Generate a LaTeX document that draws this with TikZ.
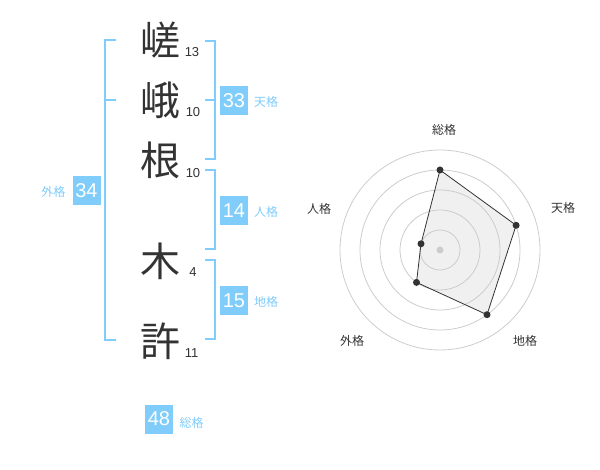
\documentclass[tikz,border=0pt]{standalone}
\usepackage{fontspec}
\setmainfont{Liberation Sans}
\newfontfamily\jp{Noto Sans CJK JP}
\definecolor{sky}{HTML}{80CCFA}
\definecolor{ink}{HTML}{333333}
\definecolor{ringgray}{HTML}{CCCCCC}
\definecolor{area}{HTML}{F0F0F0}
\begin{document}
\begin{tikzpicture}[x=1pt,y=-1pt,
  kanji/.style={font=\jp\fontsize{40}{40}\selectfont, text=ink, inner sep=0},
  strokes/.style={font=\fontsize{13}{13}\selectfont, text=ink, inner sep=0},
  numbox/.style={fill=sky, text=white, minimum width=28pt, minimum height=29pt, inner sep=0, font=\fontsize{20}{20}\selectfont},
  kaku/.style={text=sky, font=\jp\fontsize{12}{12}\selectfont, inner sep=0},
  bracket/.style={draw=sky, line width=2pt},
  axislabel/.style={text=ink, font=\jp\fontsize{12}{12}\selectfont, inner sep=0},
  ringline/.style={draw=ringgray, line width=0.8pt},
  dot/.style={circle, fill=ink, inner sep=0, minimum size=7pt}]
\useasboundingbox (0,0) rectangle (600,470);

% characters
\node[kanji] (c1) at (160,40) {嵯};
\node[kanji] (c2) at (160,100) {峨};
\node[kanji] (c3) at (160,160) {根};
\node[kanji] (c4) at (160,261) {木};
\node[kanji] (c5) at (160,341) {許};
\node[strokes] (n1) at (192,52.5) {13};
\node[strokes] (n2) at (193,112.5) {10};
\node[strokes] (n3) at (193,173) {10};
\node[strokes] (n4) at (193,272.5) {4};
\node[strokes] (n5) at (191.5,353) {11};

% brackets
\draw[bracket] (116,40) -- (105,40) -- (105,340) -- (116,340);
\draw[bracket] (105,100) -- (116,100);
\draw[bracket] (205,41) -- (214.5,41) -- (214.5,159) -- (205,159);
\draw[bracket] (205,100) -- (214.5,100);
\draw[bracket] (205,170) -- (214.5,170) -- (214.5,249) -- (205,249);
\draw[bracket] (205,260) -- (214.5,260) -- (214.5,339) -- (205,339);

% boxes and labels
\node[numbox] (ten) at (234,101) {33};
\node[kaku] (tenl) at (266,102) {天格};
\node[numbox] (jin) at (234,211) {14};
\node[kaku] (jinl) at (266,212) {人格};
\node[numbox] (chi) at (234,301) {15};
\node[kaku] (chil) at (266,302) {地格};
\node[numbox] (gai) at (86.5,190.5) {34};
\node[kaku] (gail) at (53.5,192) {外格};
\node[numbox] (sou) at (159,419) {48};
\node[kaku] (soul) at (191.5,423) {総格};

% radar
\coordinate (o) at (440,250);
\coordinate (ps) at (440,170);
\coordinate (pt) at (516.1,225.3);
\coordinate (pc) at (487.0,314.7);
\coordinate (pg) at (416.5,282.4);
\coordinate (pj) at (421.0,243.8);
\fill[area] (ps) -- (pt) -- (pc) -- (pg) -- (pj) -- cycle;
\foreach \r in {20,40,60,80,100} \draw[ringline] (o) circle[radius=\r];
\fill[ringgray] (o) circle[radius=3.5];
\draw[ink, line width=0.8pt] (ps) -- (pt) -- (pc) -- (pg) -- (pj) -- cycle;
\foreach \p in {ps,pt,pc,pg,pj} \node[dot] at (\p) {};
\node[axislabel] (ls) at (444,130) {総格};
\node[axislabel] (lt) at (563,208) {天格};
\node[axislabel] (lc) at (525,341) {地格};
\node[axislabel] (lg) at (352,341) {外格};
\node[axislabel] (lj) at (319,209) {人格};
\end{tikzpicture}
\end{document}
